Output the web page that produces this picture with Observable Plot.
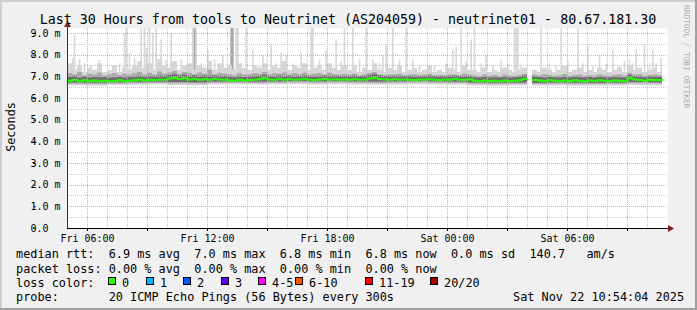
<!DOCTYPE html>
<html><head><meta charset="utf-8">
<script src="https://cdn.jsdelivr.net/npm/d3@7"></script>
<script src="https://cdn.jsdelivr.net/npm/@observablehq/plot@0.6"></script>
<style>body{margin:0;background:#f0f0f0;} svg{display:block}</style>
</head><body><div id="chart"></div>
<script>
const title = "Last 30 Hours from tools to Neutrinet (AS204059) - neutrinet01 - 80.67.181.30";
const rangeStart = "2025-11-21T05:00:00Z";
const rangeEnd = "2025-11-22T11:00:00Z";
const binMinutes = 15;   // one value per 15 minutes
const stepMinutes = 5;   // probe step for spikes
const yMax = 9.23;

// median rtt (ms) per 15-minute bin; null = no data
const median = [
 6.82,6.85,6.80,6.84,6.79,6.83,6.80,6.82,6.78,6.81,6.84,6.80,6.82,
 6.84,6.86,6.83,6.87,6.85,6.88,6.86,
 6.92,6.95,6.90,6.93,
 6.88,6.90,6.87,6.89,6.86,6.90,6.88,6.87,
 6.84,6.82,6.86,6.83,6.85,6.87,
 6.89,6.93,6.88,6.86,6.90,6.87,6.89,6.86,6.88,6.90,6.87,6.85,6.88,6.90,6.86,6.89,6.87,6.88,
 6.87,6.89,6.86,6.88,6.92,6.95,6.90,6.88,6.87,6.89,6.86,6.88,6.87,6.85,6.88,6.86,6.89,6.87,6.85,6.88,6.86,6.90,6.87,6.86,6.88,
 6.82,6.80,6.83,6.81,6.82,6.80,6.83,6.81,6.82,6.84,6.90,
 null,
 6.85,6.83,6.81,6.84,6.82,6.80,6.83,6.81,6.84,6.82,6.80,6.83,6.81,6.84,6.82,6.80,6.83,6.82,6.81,
 6.93,6.88,6.85,6.82,6.86,6.84,6.85,
 null
];
// upper edge of the light smoke per 15-minute bin
const hi = [
 7.6,7.3,7.5,7.2,7.4,7.3,7.6,7.2,7.3,7.5,7.2,7.4,7.3,
 7.5,7.7,7.4,7.6,7.3,7.8,7.5,
 7.4,7.7,7.3,7.5,
 7.6,7.3,7.5,7.4,7.7,7.3,7.6,7.4,
 7.5,7.3,7.6,7.4,7.3,7.5,
 7.4,7.6,7.3,7.5,7.4,7.7,7.3,7.5,7.4,7.6,7.3,7.4,7.5,7.3,7.6,7.4,7.3,7.5,
 7.3,7.5,7.2,7.4,7.3,7.6,7.3,7.2,7.4,7.3,7.5,7.2,7.3,7.4,7.2,7.3,7.5,7.2,7.3,7.2,7.4,7.3,7.2,7.5,7.3,
 7.3,7.2,7.4,7.2,7.3,7.2,7.4,7.3,7.2,7.3,7.4,
 null,
 7.3,7.2,7.4,7.3,7.2,7.3,7.5,7.2,7.3,7.4,7.2,7.3,7.2,7.4,7.3,7.2,7.3,7.4,7.2,
 7.5,7.3,7.4,7.2,7.3,7.4,7.2,
 null
];
// upper edge of the medium smoke per 15-minute bin
const midHi = [
 7.15,7.10,7.20,7.05,7.12,7.08,7.18,7.05,7.10,7.15,7.06,7.12,7.08,
 7.14,7.20,7.10,7.16,7.08,7.22,7.12,
 7.18,7.25,7.12,7.20,
 7.15,7.10,7.18,7.12,7.30,7.10,7.16,7.12,
 7.10,7.05,7.14,7.08,7.10,7.15,
 7.12,7.20,7.10,7.14,7.12,7.18,7.08,7.15,7.10,7.16,7.08,7.12,7.14,7.08,7.16,7.10,7.08,7.12,
 7.08,7.12,7.05,7.10,7.15,7.20,7.10,7.06,7.10,7.08,7.12,7.05,7.08,7.10,7.05,7.08,7.12,7.05,7.06,7.05,7.10,7.08,7.05,7.12,7.08,
 7.05,7.02,7.08,7.03,7.06,7.02,7.08,7.04,7.03,7.06,7.12,
 null,
 7.08,7.04,7.10,7.06,7.03,7.05,7.10,7.03,7.06,7.08,7.03,7.05,7.04,7.08,7.05,7.03,7.06,7.08,7.04,
 7.15,7.08,7.10,7.04,7.06,7.08,7.05,
 null
];
// upper edge of the dark smoke per 15-minute bin
const darkHi = [
 6.98,7.00,6.95,6.99,6.94,6.98,6.96,6.97,6.93,6.96,6.99,6.95,6.97,
 6.99,7.01,6.98,7.02,7.00,7.03,7.01,
 7.06,7.09,7.04,7.07,
 7.02,7.05,7.01,7.04,7.03,7.04,7.02,7.01,
 6.98,6.96,7.00,6.97,6.99,7.01,
 7.03,7.07,7.02,7.00,7.04,7.01,7.03,7.00,7.02,7.04,7.01,6.99,7.02,7.04,7.00,7.03,7.01,7.02,
 7.01,7.03,7.00,7.02,7.06,7.09,7.04,7.02,7.01,7.03,7.00,7.02,7.01,6.99,7.02,7.00,7.03,7.01,6.99,7.02,7.00,7.04,7.01,7.00,7.02,
 6.96,6.94,6.97,6.95,6.96,6.94,6.97,6.95,6.96,6.98,7.04,
 null,
 6.99,6.97,6.95,6.98,6.96,6.94,6.97,6.95,6.98,6.96,6.94,6.97,6.95,6.98,6.96,6.94,6.97,6.96,6.95,
 7.07,7.02,6.99,6.96,7.00,6.98,6.99,
 null
];
// lower smoke edges, one value per hour
const darkLo = [6.72,6.71,6.73,6.75,6.76,6.74,6.73,6.76,6.77,6.76,6.77,6.78,6.77,6.78,6.77,6.76,6.77,6.78,6.77,6.76,6.72,6.71,6.72,6.70,6.72,6.71,6.70,6.72,6.74,6.73];
const midLo  = [6.66,6.65,6.67,6.68,6.69,6.68,6.67,6.70,6.70,6.69,6.70,6.71,6.70,6.71,6.70,6.69,6.70,6.71,6.70,6.69,6.66,6.65,6.66,6.64,6.66,6.65,6.64,6.66,6.68,6.67];
const lo     = [6.58,6.56,6.60,6.61,6.62,6.60,6.59,6.62,6.63,6.62,6.63,6.64,6.62,6.63,6.62,6.61,6.62,6.63,6.62,6.61,6.58,6.57,6.58,6.56,6.58,6.57,6.56,6.58,6.60,6.59];

// single high pings: 5-minute step index and top value (ms)
const spikeStep = [3,4,7,10,14,19,28,31,34,35,37,40,44,46,47,49,51,53,56,59,62,68,71,75,76,77,80,84,88,93,98,99,101,102,104,107,111,115,117,122,125,128,131,135,140,143,146,147,151,155,161,164,166,171,175,179,183,187,189,191,195,199,203,207,211,215,220,224,227,231,233,236,239,242,244,248,251,255,260,264,268,269,270,272,275,284,289,293,296,300,306,309,312,315,319,323,327,331,334,337,339,341,344,346,349,351,353,356];
const spikeTop  = [7.85,8.92,7.8,7.6,7.5,7.75,7.45,7.6,9.0,9.3,8.07,7.85,9.3,9.3,8.3,9.3,9.0,9.3,8.7,7.77,9.0,7.77,7.5,9.3,9.3,9.3,7.6,8.23,7.77,8.0,9.3,9.3,9.3,9.3,7.6,9.3,8.23,7.5,8.0,8.46,7.6,8.1,8.0,7.6,8.1,7.5,9.3,9.3,7.77,8.2,8.7,7.7,9.3,9.3,7.8,9.3,7.77,7.6,8.0,8.5,9.3,7.77,9.3,7.77,7.5,7.3,7.5,7.31,7.6,8.23,8.37,9.3,7.7,8.7,9.3,7.6,8.0,7.5,7.77,7.6,9.3,9.3,9.3,7.54,7.4,9.3,7.6,7.5,9.3,7.7,9.3,7.6,8.46,7.5,8.0,7.6,8.23,7.5,7.7,7.77,7.6,8.23,7.4,8.46,7.6,8.23,7.6,7.86];
const spikeDarker = [76,98,99];

const xTickTimes  = ["2025-11-21T06:00:00Z","2025-11-21T12:00:00Z","2025-11-21T18:00:00Z","2025-11-22T00:00:00Z","2025-11-22T06:00:00Z"];
const xTickLabels = ["Fri 06:00","Fri 12:00","Fri 18:00","Sat 00:00","Sat 06:00"];
const yTicks = [0,1,2,3,4,5,6,7,8,9];
const yTickLabels = ["0.0","1.0 m","2.0 m","3.0 m","4.0 m","5.0 m","6.0 m","7.0 m","8.0 m","9.0 m"];

const legendRows = [
  "median rtt:  6.9 ms avg  7.0 ms max  6.8 ms min  6.8 ms now  0.0 ms sd  140.7   am/s",
  "packet loss: 0.00 % avg  0.00 % max  0.00 % min  0.00 % now",
  "loss color:",
  "probe:       20 ICMP Echo Pings (56 Bytes) every 300s"
];
const lossLabels = ["0","1","2","3","4-5","6-10","11-19","20/20"];
const lossColors = ["#26ff00","#00b8ff","#0059ff","#5e00ff","#ff00ff","#ff5500","#ff0000","#a10000"];
const dateStamp = "Sat Nov 22 10:54:04 2025";
const watermark = "RRDTOOL / TOBI OETIKER";

// ---- build tables ----
const t0 = new Date(rangeStart).getTime();
const binMs = binMinutes * 60000, stepMs = stepMinutes * 60000;
const rows = [];
median.forEach((m, i) => {
  if (m == null) { rows.push({t: new Date(t0 + i*binMs), med: null, lo: null, hi: null, mLo: null, mHi: null, dLo: null, dHi: null}); return; }
  const h = Math.floor(i * binMinutes / 60);
  const r = {med: m, lo: lo[h], hi: hi[i], mLo: midLo[h], mHi: midHi[i], dLo: darkLo[h], dHi: darkHi[i]};
  rows.push({...r, t: new Date(t0 + i*binMs)}, {...r, t: new Date(t0 + (i+1)*binMs)});
});
const spikes = spikeStep.map((s, i) => ({t1: new Date(t0 + s*stepMs), t2: new Date(t0 + (s+1)*stepMs), base: 7.0, top: spikeTop[i], dark: spikeDarker.includes(s)}));

const xStart = new Date(rangeStart), xEnd = new Date(rangeEnd);
const hours = d3.utcHour.range(xStart, xEnd);
const majorX = hours.filter(d => d.getUTCHours() % 3 === 0);
const minorX = hours.filter(d => d.getUTCHours() % 3 !== 0);
const majorY = yTicks.filter(v => v > 0);
const minorY = yTicks.map(v => v + 0.5).filter(v => v < yMax);
const xTickDates = xTickTimes.map(s => new Date(s));
const labelFor = d => { const k = xTickDates.findIndex(e => +e === +d); return k >= 0 ? xTickLabels[k] : ""; };

const chart = Plot.plot({
  width: 697, height: 310,
  marginLeft: 67, marginRight: 30, marginTop: 28, marginBottom: 82,
  style: {fontFamily: "DejaVu Sans Mono", fontSize: "10px", background: "#f0f0f0", color: "#000"},
  x: {type: "utc", domain: [xStart, xEnd]},
  y: {domain: [0, yMax]},
  marks: [
    Plot.frame({fill: "#ffffff", stroke: "none"}),
    Plot.rectY(spikes.filter(d => !d.dark), {x1: "t1", x2: "t2", y1: "base", y2: "top", fill: "#d9d9d9", clip: true}),
    Plot.rectY(spikes.filter(d => d.dark), {x1: "t1", x2: "t2", y1: "base", y2: "top", fill: "#a8a8a8", clip: true}),
    Plot.areaY(rows, {x: "t", y1: "lo", y2: "hi", fill: "#d6d6d6"}),
    Plot.areaY(rows, {x: "t", y1: "mLo", y2: "mHi", fill: "#a9a9a9"}),
    Plot.areaY(rows, {x: "t", y1: "dLo", y2: "dHi", fill: "#6e6e6e"}),
    Plot.ruleX(minorX, {stroke: "#c6c6c6", strokeDasharray: "1,1", shapeRendering: "crispEdges"}),
    Plot.ruleX(majorX, {stroke: "#eba5a5", strokeDasharray: "1,1", shapeRendering: "crispEdges"}),
    Plot.ruleY(minorY, {stroke: "#c6c6c6", strokeDasharray: "1,1", shapeRendering: "crispEdges"}),
    Plot.ruleY(majorY, {stroke: "#eba5a5", strokeDasharray: "1,1", shapeRendering: "crispEdges"}),
    Plot.line(rows, {x: "t", y: "med", stroke: "#26ff00", strokeWidth: 2}),
    Plot.axisY(yTicks, {tickSize: 3, tickPadding: 3, tickFormat: (d) => yTickLabels[yTicks.indexOf(d)], textAnchor: "start", dx: -31, label: null, fontSize: 10, stroke: "#333"}),
    Plot.axisX(majorX, {tickSize: 3, tickPadding: 3, tickFormat: labelFor, label: null, fontSize: 10}),
    Plot.ruleY([0], {stroke: "#000", insetRight: -1, shapeRendering: "crispEdges"}),
    Plot.ruleX([xStart], {stroke: "#333", insetTop: -2, shapeRendering: "crispEdges"})
  ]
});
document.getElementById("chart").appendChild(chart);

// ---- decorations: arrows, texts, frame ----
const svg = d3.select(chart);
const sx = chart.scale("x"), sy = chart.scale("y");
const ax = sx.apply(xStart) + 0.5, ay0 = sy.apply(0) + 0.5, ayTop = sy.apply(yMax), axEnd = sx.apply(xEnd);
svg.append("path").attr("d", `M${ax-3.5},${ayTop-1}L${ax},${ayTop-7}L${ax+3.5},${ayTop-1}Z`).attr("fill", "#7f1f1f");
svg.append("path").attr("d", `M${axEnd+1},${ay0-3.5}L${axEnd+7},${ay0}L${axEnd+1},${ay0+3.5}Z`).attr("fill", "#7f1f1f");

const W = 697, H = 310;
svg.append("rect").attr("x", 0).attr("y", 0).attr("width", W).attr("height", 2).attr("fill", "#cecece");
svg.append("rect").attr("x", 0).attr("y", 0).attr("width", 2).attr("height", H).attr("fill", "#cecece");
svg.append("rect").attr("x", W-2).attr("y", 0).attr("width", 2).attr("height", H).attr("fill", "#9e9e9e");
svg.append("rect").attr("x", 0).attr("y", H-2).attr("width", W).attr("height", 2).attr("fill", "#9e9e9e");

const font = "DejaVu Sans Mono";
const addText = (s, attrs) => {
  const t = svg.append("text").text(s).attr("font-family", font).attr("fill", "#000").attr("text-anchor", "start").style("white-space", "pre");
  Object.entries(attrs).forEach(([k, v]) => t.attr(k, v));
  return t;
};
addText(title, {x: 348, y: 24, "text-anchor": "middle", "font-size": "13.3px"});
addText("Seconds", {transform: "translate(14.5,127) rotate(-90)", "text-anchor": "middle", "font-size": "11.8px"});
addText(watermark, {transform: "translate(683.5,5) rotate(90)", "font-size": "7.8px", fill: "#ababab"});

const baselines = [258, 272.5, 286.5, 300.5];
legendRows.forEach((s, i) => addText(s, {x: 16, y: baselines[i], "font-size": "11.85px"}));
const boxX = [108, 146, 183, 221, 258, 295, 365, 430];
lossLabels.forEach((lab, i) => {
  svg.append("rect").attr("x", boxX[i] + 0.5).attr("y", 277.5).attr("width", 7).attr("height", 7)
    .attr("fill", lossColors[i]).attr("stroke", "#000").attr("stroke-width", 1);
  addText(lab, {x: boxX[i] + 14, y: baselines[2], "font-size": "11.85px"});
});
addText(dateStamp, {x: 513, y: baselines[3], "font-size": "11.85px"});
</script></body></html>
